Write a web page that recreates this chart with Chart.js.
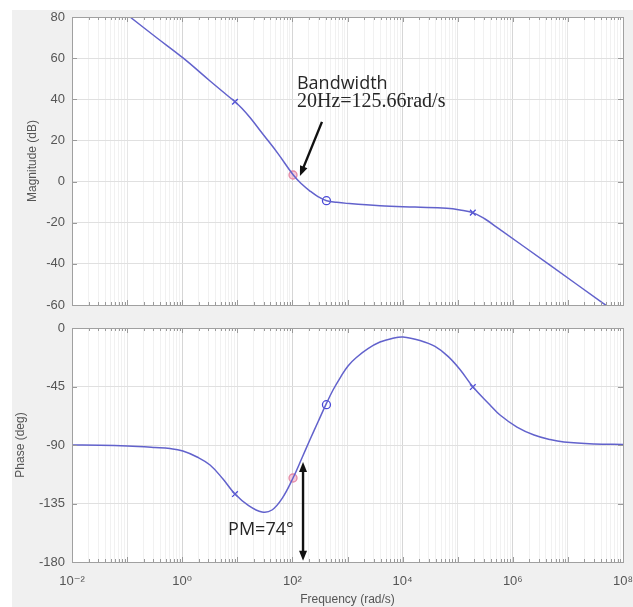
<!DOCTYPE html>
<html><head><meta charset="utf-8">
<script src="https://cdn.jsdelivr.net/npm/chart.js@4.4.1/dist/chart.umd.min.js"></script>
<style>
html,body{margin:0;padding:0;background:#fff;}
#wrap{position:relative;width:633px;height:607px;overflow:hidden;}
#bg{position:absolute;left:12px;top:10px;width:621px;height:597px;background:#f0f0f0;}
.c{position:absolute;left:0;top:0;width:633px;height:607px;}
</style></head><body>
<div id="wrap"><div id="bg"></div>
<div class="c"><canvas id="mag" width="633" height="607"></canvas></div>
<div class="c"><canvas id="phase" width="633" height="607"></canvas></div>
</div>
<script>
// ---- data (frequency in rad/s) ----
const magFreq  = [0.01, 0.0322, 0.113, 0.349, 1.034, 3.20, 6.78, 9.08, 12.2, 17.0, 30.5, 54.8, 103.8, 147.5, 208.6, 295, 419, 636, 967, 3890, 1.68e4, 6.31e4, 1.10e5, 1.87e5, 3.13e5, 5.16e5, 4.73e6, 4.38e7, 1e8];
const magDb    = [101.7, 91.2, 80, 69.8, 60.1, 48.9, 41.6, 38.8, 35.5, 31.1, 22.4, 13.6, 3.2, -1.2, -4.6, -7.4, -9.3, -10.1, -10.6, -11.7, -12.4, -13.0, -13.8, -15.1, -18.2, -22.3, -40.6, -59.2, -65.8];
const phaseFreq = [0.01, 0.0322, 0.1016, 0.3206, 0.601, 1.03, 1.86, 3.20, 5.50, 9.08, 15.6, 28.1, 42.6, 64.8, 102.6, 149, 208, 291, 407, 546, 731, 1021, 1487, 2354, 3890, 6427, 1.016e4, 2.07e4, 3.87e4, 6.67e4, 1.10e5, 1.90e5, 3.86e5, 5.86e5, 1.19e6, 2.43e6, 4.73e6, 8.49e6, 2.98e7, 1e8];
const phaseDeg  = [-90, -90.2, -90.8, -91.9, -92.7, -94.6, -99.2, -105.4, -116.2, -127.7, -136.2, -141.5, -140, -131.2, -115.4, -100, -86, -72.3, -58.8, -47.7, -38.5, -29.2, -22.3, -15.8, -10.8, -8, -6.9, -9.6, -14.2, -21.8, -31.9, -45.4, -59.2, -66.9, -76.2, -82.3, -85.8, -87.7, -89.2, -89.6];
const markerFreq  = [9.08, 102.6, 415, 1.88e5];
const markerMag   = [38.8, 3.2, -9.3, -15.1];
const markerPhase = [-127.7, -115.4, -59, -45.4];
const xTickDecades = [-2, 0, 2, 4, 6, 8];
const magTicks   = [80, 60, 40, 20, 0, -20, -40, -60];
const phaseTicks = [0, -45, -90, -135, -180];

// ---- styling ----
const LINE = '#6262cc';
const markerStyle = ['crossRot', 'circle', 'circle', 'crossRot'];
const markerColor = ['#4a4ad8', '#e58aa6', '#4a4ad8', '#4a4ad8'];
const markerFill  = ['rgba(0,0,0,0)', 'rgba(240,170,195,0.6)', 'rgba(0,0,0,0)', 'rgba(0,0,0,0)'];
const TICKFONT = {family: '"Liberation Sans", Arial, "DejaVu Sans", sans-serif', size: 13};
const TICKCOLOR = '#555555';

const allXTicks = [];
for (let e = -2; e < 8; e++) for (let m = 1; m <= 9; m++) allXTicks.push(m * Math.pow(10, e));
allXTicks.push(1e8);
const lg = v => Math.log10(v);
const isDecade = v => Math.abs(lg(v) - Math.round(lg(v))) < 1e-9;
const isLabeled = v => isDecade(v) && xTickDecades.includes(Math.round(lg(v)));
const supMap = {'-':'\u207B','0':'\u2070','1':'\u00B9','2':'\u00B2','3':'\u00B3','4':'\u2074','5':'\u2075','6':'\u2076','7':'\u2077','8':'\u2078','9':'\u2079'};
const sup = n => String(n).split('').map(c => supMap[c]).join('');

function xScale(showLabels) {
  return {
    type: 'logarithmic', min: 1e-2, max: 1e8,
    afterBuildTicks: s => { s.ticks = allXTicks.map(v => ({value: v})); },
    ticks: {
      display: showLabels, autoSkip: false, maxRotation: 0, minRotation: 0, padding: 12,
      color: TICKCOLOR, font: TICKFONT,
      callback: v => isLabeled(v) ? '10' + sup(Math.round(lg(v))) : ''
    },
    grid: {
      drawTicks: false, lineWidth: 1,
      color: c => (c.tick && isLabeled(c.tick.value)) ? '#d6d6d6' : (c.tick && isDecade(c.tick.value) ? '#e6e6e6' : '#f1f1f1')
    },
    border: {display: false},
    title: showLabels ? {display: true, text: 'Frequency (rad/s)', color: TICKCOLOR,
      font: {family: TICKFONT.family, size: 12}, padding: {top: 0, bottom: 0}} : {display: false},
    afterFit: s => { s.paddingLeft = 0; s.paddingRight = 0; s.height = showLabels ? 45 : 0; }
  };
}
function yScale(min, max, ticks, title, titlePad) {
  return {
    type: 'linear', min: min, max: max,
    afterBuildTicks: s => { s.ticks = ticks.map(v => ({value: v})); },
    ticks: {padding: 7, color: TICKCOLOR, font: TICKFONT},
    grid: {drawTicks: false, color: '#e0e0e0', lineWidth: 1},
    border: {display: false},
    title: {display: true, text: title, color: TICKCOLOR,
      font: {family: TICKFONT.family, size: 12}, padding: {top: titlePad, bottom: 0}},
    afterFit: s => { s.width = 72; }
  };
}

const frame = {
  id: 'frame',
  beforeDraw(chart) {
    const {ctx, chartArea: a} = chart;
    ctx.save(); ctx.fillStyle = '#ffffff'; ctx.fillRect(a.left, a.top, a.width, a.height); ctx.restore();
  },
  afterDraw(chart) {
    const {ctx, chartArea: a, scales} = chart;
    ctx.save();
    ctx.strokeStyle = '#9a9a9a'; ctx.lineWidth = 1;
    ctx.beginPath();
    scales.x.ticks.forEach(t => {
      const px = Math.round(scales.x.getPixelForValue(t.value)) + 0.5;
      const L = isDecade(t.value) ? 5 : 3;
      ctx.moveTo(px, a.top); ctx.lineTo(px, a.top + L);
      ctx.moveTo(px, a.bottom); ctx.lineTo(px, a.bottom - L);
    });
    scales.y.ticks.forEach(t => {
      const py = Math.round(scales.y.getPixelForValue(t.value)) + 0.5;
      ctx.moveTo(a.left, py); ctx.lineTo(a.left + 5, py);
      ctx.moveTo(a.right, py); ctx.lineTo(a.right - 5, py);
    });
    ctx.stroke();
    ctx.strokeStyle = '#a0a0a0';
    ctx.strokeRect(Math.round(a.left) + 0.5, Math.round(a.top) + 0.5, Math.round(a.width), Math.round(a.height));
    ctx.restore();
  }
};

function arrowHead(ctx, x1, y1, x2, y2) {
  const ang = Math.atan2(y2 - y1, x2 - x1), L = 10, W = 4;
  ctx.beginPath();
  ctx.moveTo(x2, y2);
  ctx.lineTo(x2 - L * Math.cos(ang) + W * Math.sin(ang), y2 - L * Math.sin(ang) - W * Math.cos(ang));
  ctx.lineTo(x2 - L * Math.cos(ang) - W * Math.sin(ang), y2 - L * Math.sin(ang) + W * Math.cos(ang));
  ctx.closePath(); ctx.fill();
}
function drawArrow(chart, from, to, both) {
  const {ctx, scales: {x, y}} = chart;
  const x1 = x.getPixelForValue(from[0]), y1 = y.getPixelForValue(from[1]);
  const x2 = x.getPixelForValue(to[0]), y2 = y.getPixelForValue(to[1]);
  const ang = Math.atan2(y2 - y1, x2 - x1);
  ctx.save();
  ctx.strokeStyle = '#111'; ctx.fillStyle = '#111'; ctx.lineWidth = 2.4;
  ctx.beginPath();
  ctx.moveTo(both ? x1 + 8 * Math.cos(ang) : x1, both ? y1 + 8 * Math.sin(ang) : y1);
  ctx.lineTo(x2 - 8 * Math.cos(ang), y2 - 8 * Math.sin(ang));
  ctx.stroke();
  arrowHead(ctx, x1, y1, x2, y2);
  if (both) arrowHead(ctx, x2, y2, x1, y1);
  ctx.restore();
}
function drawText(chart, txt, at, font) {
  const {ctx, scales: {x, y}} = chart;
  ctx.save(); ctx.fillStyle = '#262626'; ctx.font = font; ctx.textBaseline = 'alphabetic'; ctx.textAlign = 'left';
  ctx.fillText(txt, x.getPixelForValue(at[0]), y.getPixelForValue(at[1]));
  ctx.restore();
}

const magNotes = {
  id: 'magNotes',
  afterDraw(chart) {
    drawText(chart, 'Bandwidth', [121, 45], '18px "Open Sans", "DejaVu Sans", sans-serif');
    drawText(chart, '20Hz=125.66rad/s', [121, 36.2], '20px "Liberation Serif", "DejaVu Serif", serif');
    drawArrow(chart, [344, 29], [137, 2.7], false);
  }
};
const phaseNotes = {
  id: 'phaseNotes',
  afterDraw(chart) {
    drawText(chart, 'PM=74\u00B0', [6.8, -159], '18px "Open Sans", "DejaVu Sans", sans-serif');
    drawArrow(chart, [156, -179], [156, -103], true);
  }
};

function makeChart(id, freq, vals, mVals, yOpts, pad, showX, notes) {
  return new Chart(document.getElementById(id), {
    type: 'line',
    data: {
      datasets: [
        {data: freq.map((f, i) => ({x: f, y: vals[i]})), borderColor: LINE, borderWidth: 1.5,
         pointRadius: 0, tension: 0.4, fill: false},
        {data: markerFreq.map((f, i) => ({x: f, y: mVals[i]})), showLine: false,
         pointStyle: markerStyle, pointRadius: 4, pointBorderWidth: 1.3,
         pointBorderColor: markerColor, pointBackgroundColor: markerFill}
      ]
    },
    options: {
      responsive: false, animation: false, devicePixelRatio: 1,
      layout: {padding: pad},
      plugins: {legend: {display: false}, tooltip: {enabled: false}},
      scales: {x: xScale(showX), y: yOpts}
    },
    plugins: [frame, notes]
  });
}

makeChart('mag', magFreq, magDb, markerMag,
  yScale(-60, 80, magTicks, 'Magnitude (dB)', 25),
  {left: 0, top: 17, right: 10, bottom: 302}, false, magNotes);
makeChart('phase', phaseFreq, phaseDeg, markerPhase,
  yScale(-180, 0, phaseTicks, 'Phase (deg)', 13),
  {left: 0, top: 328, right: 10, bottom: 0}, true, phaseNotes);
</script>
</body></html>
